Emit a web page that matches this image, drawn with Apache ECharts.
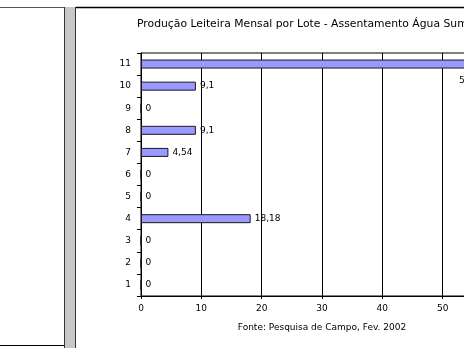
<!DOCTYPE html>
<html>
<head>
<meta charset="utf-8">
<script src="https://cdn.jsdelivr.net/npm/echarts@6/dist/echarts.min.js"></script>
<style>
  html, body { margin: 0; padding: 0; background: #fff; }
  #chart { width: 464px; height: 348px; }
</style>
</head>
<body>
<div id="chart"></div>
<script>
// Lotes do assentamento e participação (%) na produção leiteira mensal
var lotes = ['1', '2', '3', '4', '5', '6', '7', '8', '9', '10', '11'];
var producao = [0, 0, 0, 18.18, 0, 0, 4.54, 9.1, 0, 9.1, 54.55];
var xTicks = [0, 10, 20, 30, 40, 50, 60];

var titulo = 'Produção Leiteira Mensal por Lote - Assentamento Água Sumida';
var fonte = 'Fonte: Pesquisa de Campo, Fev. 2002';

var FONT = '"DejaVu Sans", Verdana, sans-serif';

function fmt(v) { return String(v).replace('.', ','); }

var barData = producao.map(function (v, i) {
  var item = { value: v };
  if (i === lotes.length - 1) {
    // the longest bar runs past the frame; its label sits below its end
    item.label = { offset: [-15, 17] };
  }
  return item;
});

var chart = echarts.init(document.getElementById('chart'), null, { renderer: 'canvas' });
chart.setOption({
  animation: false,
  backgroundColor: '#fff',
  textStyle: { fontFamily: FONT },
  grid: {
    left: 141, top: 53, width: 362, height: 243,
    outerBoundsMode: 'none', containLabel: false,
    show: true, borderColor: '#000', borderWidth: 1, backgroundColor: 'transparent'
  },
  xAxis: {
    type: 'value',
    min: xTicks[0],
    max: xTicks[xTicks.length - 1],
    interval: 10,
    name: fonte,
    nameLocation: 'middle',
    nameGap: 27,
    nameTextStyle: { fontFamily: FONT, fontSize: 9, color: '#000' },
    axisLine: { show: true, lineStyle: { color: '#000', width: 1 } },
    axisTick: { show: true, length: 3, lineStyle: { color: '#000' } },
    axisLabel: { fontFamily: FONT, fontSize: 9, color: '#000', margin: 8 },
    splitLine: { show: true, lineStyle: { color: '#000', width: 1 } }
  },
  yAxis: {
    type: 'category',
    data: lotes,
    axisLine: { show: true, lineStyle: { color: '#000', width: 1 } },
    axisTick: { show: true, length: 4, alignWithLabel: false, lineStyle: { color: '#000' } },
    axisLabel: { fontFamily: FONT, fontSize: 9, color: '#000', margin: 10 },
    splitLine: { show: false }
  },
  series: [{
    type: 'bar',
    data: barData,
    barWidth: 9,
    itemStyle: { color: '#9999FF', borderColor: '#1a1a1a', borderWidth: 1 },
    label: {
      show: true,
      position: 'right',
      distance: 4,
      fontFamily: FONT,
      fontSize: 9,
      color: '#000',
      formatter: function (p) { return fmt(p.value); }
    }
  }],
  graphic: [
    // título do gráfico
    { type: 'text', left: 137, top: 19, style: { text: titulo, font: '10.8px ' + FONT, fill: '#000' } },
    // moldura: painel à esquerda, barra cinza e borda superior
    { type: 'line', shape: { x1: 0, y1: 7.5, x2: 64, y2: 7.5 }, style: { stroke: '#555', lineWidth: 1 } },
    { type: 'line', shape: { x1: 0, y1: 345.5, x2: 64, y2: 345.5 }, style: { stroke: '#000', lineWidth: 1 } },
    { type: 'rect', shape: { x: 64, y: 7, width: 12, height: 341 }, style: { fill: '#C8C8C8', stroke: null } },
    { type: 'line', shape: { x1: 64.5, y1: 7, x2: 64.5, y2: 348 }, style: { stroke: '#333', lineWidth: 1 } },
    { type: 'line', shape: { x1: 75.5, y1: 7, x2: 75.5, y2: 348 }, style: { stroke: '#333', lineWidth: 1 } },
    { type: 'line', shape: { x1: 76, y1: 7.5, x2: 464, y2: 7.5 }, style: { stroke: '#000', lineWidth: 1.5 } }
  ]
});
</script>
</body>
</html>
